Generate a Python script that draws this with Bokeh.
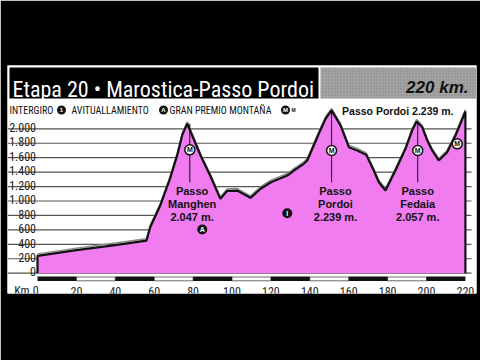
from bokeh.plotting import figure
from bokeh.models import ColumnDataSource, Range1d
from bokeh.core.properties import value
from bokeh.embed import file_html
from bokeh.resources import INLINE

# ---------------- data ----------------
km = [0, 20, 40, 56, 58, 63, 68, 72, 74.5, 77, 84, 89, 94, 97.5, 102.7, 109.5,
      114.7, 120, 128.4, 131.8, 136.9, 138.7, 144.6, 148.1, 151.2, 155.8, 160.1,
      164.4, 169, 172.9, 175.5, 178.9, 184, 189.2, 192.6, 194.9, 197.8, 200.4,
      202.9, 206.3, 210.6, 214.9, 220]
alt = [240, 320, 390, 450, 640, 930, 1300, 1650, 1920, 2070, 1620, 1340, 1030,
       1140, 1145, 1044, 1170, 1260, 1353, 1422, 1515, 1561, 1931, 2139, 2255,
       2046, 1745, 1700, 1640, 1422, 1260, 1145, 1422, 1723, 1976, 2100, 2022,
       1838, 1700, 1561, 1676, 1907, 2239]

y_ticks = [0, 200, 400, 600, 800, 1000, 1200, 1400, 1600, 1800, 2000]
y_tick_labels = ["0", "200", "400", "600", "800", "1.000", "1.200", "1.400",
                 "1.600", "1.800", "2.000"]
x_ticks = [0, 20, 40, 60, 80, 100, 120, 140, 160, 180, 200, 220]
x_tick_labels = ["Km.0", "20", "40", "60", "80", "100", "120", "140", "160",
                 "180", "200", "220"]

peak_km = [78.3, 151.2, 195.5]
peak_alt = [2070, 2255, 2100]
peak_label_km = [79.5, 153.2, 195.5]
peak_names = ["Passo\nManghen\n2.047 m.", "Passo\nPordoi\n2.239 m.",
              "Passo\nFedaia\n2.057 m."]
gpm_km = [78.3, 151.2, 195.5, 215.8]
gpm_alt = [1709, 1700, 1700, 1792]
feed_km = [84.7]
feed_alt = [605]
inter_km = [128.4]
inter_alt = [831]

title_text = "Etapa 20 \u2022 Marostica-Passo Pordoi"
distance_text = "220 km."
finish_text = "Passo Pordoi 2.239 m."
legend_labels = ["INTERGIRO", "AVITUALLAMIENTO", "GRAN PREMIO MONTA\u00d1A"]

PINK = "#F07CF0"
NARROW = value("Roboto Condensed, DejaVu Sans Condensed, Liberation Sans Narrow, Liberation Sans")
SANS = value("Liberation Sans")

# page-pixel helpers for decorations (km 0 at x=37, 0 m at y=272.7)
def kx(px):
    return (px - 37.0) / 1.945

def my(py):
    return (272.7 - py) / 0.0722

p = figure(width=480, height=360, output_backend="svg", toolbar_location=None,
           x_axis_type=None, y_axis_type=None,
           x_range=Range1d(kx(7), kx(476)), y_range=Range1d(my(293), my(65)),
           min_border_left=7, min_border_right=4, min_border_top=65,
           min_border_bottom=67, border_fill_color="black",
           background_fill_color="white", outline_line_color=None)

# grid lines
p.segment(x0=[kx(7)] * len(y_ticks), y0=y_ticks, x1=[kx(471)] * len(y_ticks),
          y1=y_ticks, line_color="#555555", line_width=1.2)

# profile
src = ColumnDataSource(dict(km=km, alt=alt, base=[0] * len(km)))
p.varea(x="km", y1="base", y2="alt", source=src, fill_color=PINK)
p.line(x=km, y=[a + 28 for a in alt], line_color="#8a8a8a", line_width=1.4)
p.line(x=[km[0]] + km + [km[-1]], y=[0] + alt + [0], line_color="#111111",
       line_width=2.2)

# y tick labels
p.text(x=[kx(35.5)] * len(y_ticks), y=[t + 18 for t in y_ticks],
       text=y_tick_labels, text_align="right", text_baseline="alphabetic",
       text_font=NARROW, text_font_size="12px", text_color="#222222")

# km scale bar (alternating black / white 20 km blocks)
blk_l = x_ticks[0:-1:2]
blk_r = x_ticks[1::2]
wht_l = x_ticks[1:-1:2]
wht_r = x_ticks[2::2]
p.quad(left=wht_l, right=wht_r, top=my(276.5), bottom=my(280.3),
       fill_color="white", line_color="#444444", line_width=0.8)
p.quad(left=blk_l, right=blk_r, top=my(276), bottom=my(280.5),
       fill_color="#111111", line_color=None)
p.text(x=[x_ticks[0] + 0.6] + x_ticks[1:], y=my(290.5),
       text=x_tick_labels, text_align=["right"] + ["center"] * (len(x_ticks) - 1),
       text_baseline="alphabetic", text_font=NARROW, text_font_size="12px",
       text_color="#222222")

# header
p.quad(left=[kx(9)], right=[kx(318)], top=my(67), bottom=my(98),
       fill_color="black", line_color=None)
p.quad(left=[kx(320)], right=[kx(476)], top=my(67), bottom=my(98),
       fill_color="#a4a4a4", line_color=None, hatch_pattern="dot",
       hatch_color="#6e6e6e", hatch_scale=3, hatch_alpha=0.6)
p.text(x=[kx(12)], y=[my(88.5)], text=[title_text], text_font=NARROW,
       text_font_size="22px", text_color="white", text_baseline="alphabetic")
p.text(x=[kx(468)], y=[my(87)], text=[distance_text], text_font=SANS,
       text_font_style="bold italic", text_font_size="17px",
       text_color="#111111", text_align="right", text_baseline="middle")

# legend row
ly = my(109.5)
p.text(x=[kx(9), kx(71), kx(169)], y=[ly] * 3, text=legend_labels,
       text_font=NARROW, text_font_size="10px", text_color="#111111",
       text_baseline="middle")
p.scatter(x=[kx(61), kx(163), kx(285)], y=[ly] * 3, size=9,
          fill_color="#111111", line_color=None)
p.text(x=[kx(61), kx(163), kx(285)], y=[ly] * 3, text=["1", "A", "M"],
       text_font=SANS, text_font_style="bold", text_font_size="6px",
       text_color="white", text_align="center", text_baseline="middle")
p.text(x=[kx(293)], y=[ly], text=["M"], text_font=SANS, text_font_style="bold",
       text_font_size="5px", text_color="#111111", text_align="center",
       text_baseline="middle")

# finish label
p.text(x=[kx(453)], y=[my(110.5)], text=[finish_text], text_font=SANS,
       text_font_style="bold", text_font_size="10.5px", text_color="#111111",
       text_align="right", text_baseline="middle")

# peak lines and labels
p.segment(x0=peak_km, y0=peak_alt, x1=peak_km, y1=[my(182)] * 3,
          line_color="#111111", line_width=1)
p.text(x=peak_label_km, y=[my(184.5)] * 3, text=peak_names,
       text_font=SANS, text_font_style="bold", text_font_size="11px",
       text_color="#111111", text_align="center", text_baseline="top",
       text_line_height=1.1)

# mountain markers
p.scatter(x=gpm_km, y=gpm_alt, size=10, fill_color="white",
          line_color="#111111", line_width=1.5)
p.text(x=gpm_km, y=gpm_alt, text=["M"] * len(gpm_km), text_font=SANS,
       text_font_style="bold", text_font_size="7px", text_color="#111111",
       text_align="center", text_baseline="middle")
# feed zone and intergiro
p.scatter(x=feed_km + inter_km, y=feed_alt + inter_alt, size=10,
          fill_color="#111111", line_color=None)
p.text(x=feed_km + inter_km, y=feed_alt + inter_alt, text=["A", "I"],
       text_font=SANS, text_font_style="bold", text_font_size="7px",
       text_color="white", text_align="center", text_baseline="middle")

open("out.html", "w").write(file_html(p, INLINE))
